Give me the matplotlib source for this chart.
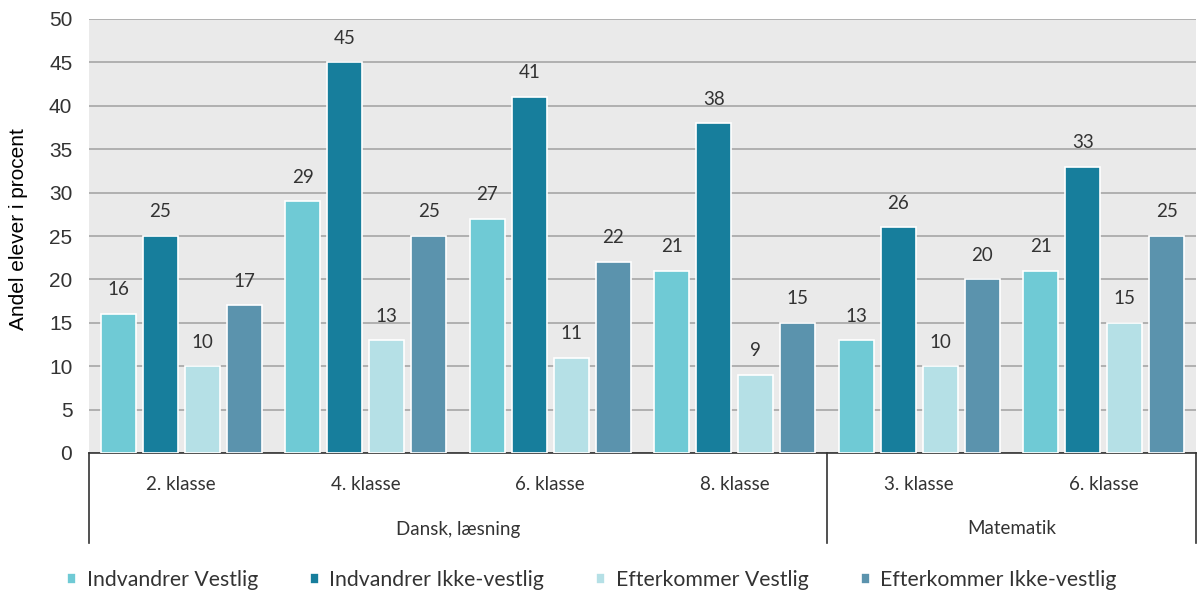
import matplotlib.pyplot as plt
import numpy as np

plt.rcParams['font.family'] = ['Lato', 'DejaVu Sans']
plt.rcParams['text.color'] = '#333333'

# Data
categories = ['2. klasse', '4. klasse', '6. klasse', '8. klasse', '3. klasse', '6. klasse']
groups = [('Dansk, læsning', 0, 4), ('Matematik', 4, 6)]
series = ['Indvandrer Vestlig', 'Indvandrer Ikke-vestlig',
          'Efterkommer Vestlig', 'Efterkommer Ikke-vestlig']
values = [
    [16, 29, 27, 21, 13, 21],
    [25, 45, 41, 38, 26, 33],
    [10, 13, 11, 9, 10, 15],
    [17, 25, 22, 15, 20, 25],
]
colors = ['#6FCAD5', '#177E9C', '#B5E0E6', '#5B93AD']

W, H = 1197, 596
fig = plt.figure(figsize=(W / 100, H / 100), dpi=100)
ax = fig.add_axes([89 / W, (H - 453) / H, (1196 - 89) / W, (453 - 19) / H])
ax.set_facecolor('#EAEAEA')

x = np.arange(len(categories))
step = 0.227
width = 0.19
for i, (name, vals, c) in enumerate(zip(series, values, colors)):
    pos = x + (i - 1.5) * step
    ax.bar(pos, vals, width, color=c, edgecolor='white', linewidth=1.2,
           label=name, zorder=3)
    for xp, v in zip(pos, vals):
        ax.text(xp, v + 1.8, str(v), ha='center', va='bottom', fontsize=13.5, color='#333333')

ax.set_xlim(-0.5, len(categories) - 0.5)
ax.set_ylim(0, 50)
ax.set_yticks(range(0, 51, 5))
ax.tick_params(axis='y', length=0, labelsize=15, pad=12, colors='#333333')
for lab in ax.get_yticklabels():
    lab.set_fontfamily('Liberation Sans')
ax.set_xticks([])
ax.grid(axis='y', color='#A6A6A6', linewidth=1.2, zorder=0)
for s in ['top', 'left', 'right']:
    ax.spines[s].set_visible(False)
ax.spines['bottom'].set_color('#333333')
ax.spines['bottom'].set_linewidth(1.2)
ax.set_ylabel('Andel elever i procent', fontsize=15, family='Liberation Sans')
ax.yaxis.set_label_coords(-61 / (1196 - 89), 0.516)

# Grouped category axis
row1 = -31 / 434 * 50
row2 = -76 / 434 * 50
bottom = -90 / 434 * 50
for i, cat in enumerate(categories):
    ax.text(i, row1, cat, ha='center', va='center', fontsize=13.5, clip_on=False)
edges = [-0.5]
for name, a, b in groups:
    ax.text((a + b - 1) / 2, row2, name, ha='center', va='center', fontsize=13.5, clip_on=False)
    edges.append(b - 0.5)
for e in edges:
    ax.plot([e, e], [0, bottom], color='#333333', linewidth=1.2, clip_on=False)

fig.legend(loc='center left', bbox_to_anchor=(67 / W, (H - 580) / H), ncol=4, frameon=False,
           fontsize=15.3, handlelength=0.42, handleheight=0.42, handletextpad=0.5,
           columnspacing=2.45, borderpad=0, borderaxespad=0)

fig.savefig('out.png', dpi=100)
